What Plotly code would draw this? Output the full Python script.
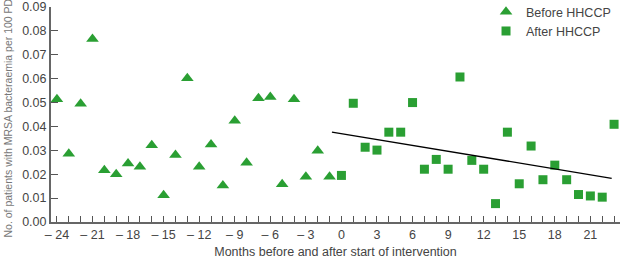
import plotly.graph_objects as go

# Data
before_months = list(range(-24, 0))
before_values = [0.0514, 0.0286, 0.0495, 0.0766, 0.0217, 0.0200, 0.0245, 0.0231,
                 0.0321, 0.0112, 0.0280, 0.0602, 0.0231, 0.0324, 0.0153, 0.0424,
                 0.0248, 0.0518, 0.0523, 0.0158, 0.0514, 0.0189, 0.0298, 0.0189]
after_months = list(range(0, 24))
after_values = [0.0195, 0.0497, 0.0313, 0.0301, 0.0376, 0.0376, 0.0500, 0.0221,
                0.0262, 0.0221, 0.0607, 0.0258, 0.0221, 0.0077, 0.0376, 0.0160,
                0.0318, 0.0177, 0.0238, 0.0177, 0.0115, 0.0109, 0.0104, 0.0409]
trend_x = [-0.8, 22.8]
trend_y = [0.0376, 0.0183]

x_tickvals = list(range(-24, 22, 3))
x_ticktext = [("\u2013 " + str(abs(v))) if v < 0 else str(v) for v in x_tickvals]
y_tickvals = [0.00, 0.01, 0.02, 0.03, 0.04, 0.05, 0.06, 0.07, 0.08, 0.09]
y_ticktext = ["%.2f" % v for v in y_tickvals]

green = "#2a9f33"
font = "Liberation Sans, Arial, sans-serif"

fig = go.Figure()
fig.add_trace(go.Scatter(
    x=before_months, y=before_values, mode="markers", name="Before HHCCP",
    marker=dict(symbol="triangle-up", size=11, color=green, line=dict(width=0)),
))
fig.add_trace(go.Scatter(
    x=after_months, y=after_values, mode="markers", name="After HHCCP",
    marker=dict(symbol="square", size=9, color=green, line=dict(width=0)),
))
fig.add_trace(go.Scatter(
    x=trend_x, y=trend_y, mode="lines", showlegend=False,
    line=dict(color="black", width=1.3), hoverinfo="skip",
))

fig.add_annotation(
    text="No. of patients with MRSA bacteraemia per 100 PD",
    xref="paper", yref="paper", x=-0.0756, y=0.486,
    xanchor="center", yanchor="middle", textangle=-90, showarrow=False,
    font=dict(size=10.5, color="#777"),
)

fig.update_layout(
    width=620, height=261,
    margin=dict(l=51, r=0, t=7, b=39, autoexpand=False),
    paper_bgcolor="white", plot_bgcolor="white",
    font=dict(family=font, size=12, color="#444"),
    legend=dict(x=0.993, y=1.046, xanchor="right", yanchor="top",
                bgcolor="rgba(0,0,0,0)", font=dict(size=12.5, color="#444"),
                tracegroupgap=0, itemwidth=30, borderwidth=0),
    xaxis=dict(
        range=[-24.5, 23.5], tickmode="array", tickvals=x_tickvals, ticktext=x_ticktext,
        ticks="inside", ticklen=6, tickcolor="#555", tickwidth=1,
        minor=dict(tickmode="linear", tick0=0, dtick=1, ticks="inside", ticklen=6,
                   tickcolor="#555", tickwidth=1),
        showline=True, linecolor="#666", linewidth=2, showgrid=False, zeroline=False,
        title=dict(text="Months before and after start of intervention",
                   font=dict(size=12.5, color="#444"), standoff=6),
        tickfont=dict(size=12.5, color="#444"),
    ),
    yaxis=dict(
        range=[0, 0.09], tickmode="array", tickvals=y_tickvals, ticktext=y_ticktext,
        ticks="inside", ticklen=7, tickcolor="#555", tickwidth=1,
        showline=True, linecolor="#666", linewidth=2, showgrid=False, zeroline=False,
        tickfont=dict(size=12.5, color="#444"),
    ),
)

fig.write_html("out.html")
